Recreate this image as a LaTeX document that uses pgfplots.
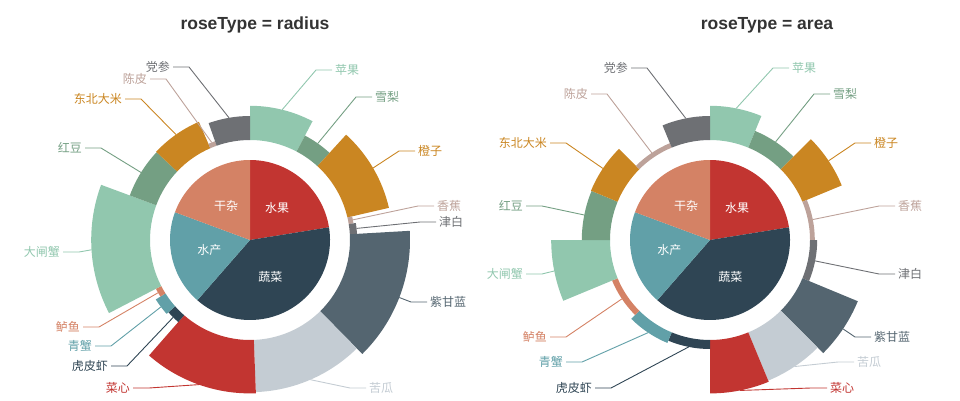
\documentclass[border=0pt]{standalone}
\usepackage{pgfplots}
\pgfplotsset{compat=1.18}
\usepackage{pgfplotstable}
\usepackage{fontspec}
\setmainfont{Liberation Sans}
\newfontfamily\cjk{Noto Sans CJK SC}

% echarts default palette
\definecolor{c0}{HTML}{C23531}
\definecolor{c1}{HTML}{2F4554}
\definecolor{c2}{HTML}{61A0A8}
\definecolor{c3}{HTML}{D48265}
\definecolor{c4}{HTML}{91C7AE}
\definecolor{c5}{HTML}{749F83}
\definecolor{c6}{HTML}{CA8622}
\definecolor{c7}{HTML}{BDA29A}
\definecolor{c8}{HTML}{6E7074}
\definecolor{c9}{HTML}{546570}
\definecolor{c10}{HTML}{C4CCD3}
\definecolor{titlegray}{HTML}{333333}

\newcommand\lbl{\cjk\fontsize{12}{14}\selectfont}

% inner pie: the four groups
\pgfplotstableread[col sep=comma]{
name,value,color
水果,166,c0
蔬菜,288,c1
水产,142,c2
干杂,143,c3
}\groups

% outer rose; label text position (px from top left) for the radius chart (rx,ry,rs) and area chart (ax,ay,as)
\pgfplotstableread[col sep=comma]{
name,value,color,rx,ry,rs,ax,ay,as
苹果,57,c4,335,70,1,792,68,1
雪梨,30,c5,375,97,1,833,94,1
橙子,71,c6,418,151,1,874,143,1
香蕉,8,c7,437,206,1,898,206,1
津白,12,c8,439,222,1,898,274,1
紫甘蓝,100,c9,430,302,1,874,337,1
苦瓜,87,c10,369,388,1,857,362,1
菜心,89,c0,130,388,-1,830,388,1
虎皮虾,15,c1,108,366,-1,592,388,-1
青蟹,19,c2,92,346,-1,563,362,-1
鲈鱼,10,c3,80,327,-1,547,337,-1
大闸蟹,98,c4,60,252,-1,523,274,-1
红豆,47,c5,82,148,-1,523,206,-1
东北大米,48,c6,122,99,-1,547,143,-1
陈皮,8,c7,147,79,-1,588,94,-1
党参,40,c8,170,67,-1,628,68,-1
}\items

% #1 cx, #2 cy (px from top), #3 0 = radius, 1 = area
\newcommand\rose[3]{%
  \pgfmathsetmacro\cx{#1}%
  \pgfmathsetmacro\cy{400-#2}%
  \def\tot{0}\def\totin{0}\def\vmax{0}%
  \pgfplotsforeachungrouped \i in {0,...,15}{%
    \pgfplotstablegetelem{\i}{value}\of\items
    \pgfmathsetmacro\tot{\tot+\pgfplotsretval}%
    \pgfmathsetmacro\vmax{max(\vmax,\pgfplotsretval)}%
  }%
  \pgfplotsforeachungrouped \i in {0,...,3}{%
    \pgfplotstablegetelem{\i}{value}\of\groups
    \pgfmathsetmacro\totin{\totin+\pgfplotsretval}%
  }%
  % inner pie
  \def\cum{0}%
  \pgfplotsforeachungrouped \i in {0,...,3}{%
    \pgfplotstablegetelem{\i}{value}\of\groups \let\val\pgfplotsretval
    \pgfplotstablegetelem{\i}{color}\of\groups \let\col\pgfplotsretval
    \pgfplotstablegetelem{\i}{name}\of\groups \let\nm\pgfplotsretval
    \pgfmathsetmacro\angA{90-\cum/\totin*360}%
    \pgfmathsetmacro\angB{90-(\cum+\val)/\totin*360}%
    \pgfmathsetmacro\angM{(\angA+\angB)/2}%
    \pgfmathsetmacro\cum{\cum+\val}%
    \pgfmathsetmacro\px{\cx+80*cos(\angA)}%
    \pgfmathsetmacro\py{\cy+80*sin(\angA)}%
    \pgfmathsetmacro\lx{\cx+42*cos(\angM)}%
    \pgfmathsetmacro\ly{\cy+42*sin(\angM)}%
    \edef\cmd{%
      \noexpand\fill[\col] (axis cs:\cx,\cy) -- (axis cs:\px,\py)
        arc[start angle=\angA, end angle=\angB, radius=80pt] -- cycle;
      \noexpand\node[white, inner sep=0pt, font=\noexpand\lbl] at (axis cs:\lx,\ly) {\nm};
    }\cmd
  }%
  % outer rose
  \def\cum{0}%
  \pgfplotsforeachungrouped \i in {0,...,15}{%
    \pgfplotstablegetelem{\i}{value}\of\items \let\val\pgfplotsretval
    \pgfplotstablegetelem{\i}{color}\of\items \let\col\pgfplotsretval
    \pgfplotstablegetelem{\i}{name}\of\items \let\nm\pgfplotsretval
    \ifnum#3=0
      \pgfplotstablegetelem{\i}{rx}\of\items \let\tx\pgfplotsretval
      \pgfplotstablegetelem{\i}{ry}\of\items \let\ty\pgfplotsretval
      \pgfplotstablegetelem{\i}{rs}\of\items \let\side\pgfplotsretval
      \pgfmathsetmacro\angA{90-\cum/\tot*360}%
      \pgfmathsetmacro\angB{90-(\cum+\val)/\tot*360}%
    \else
      \pgfplotstablegetelem{\i}{ax}\of\items \let\tx\pgfplotsretval
      \pgfplotstablegetelem{\i}{ay}\of\items \let\ty\pgfplotsretval
      \pgfplotstablegetelem{\i}{as}\of\items \let\side\pgfplotsretval
      \pgfmathsetmacro\angA{90-\i*22.5}%
      \pgfmathsetmacro\angB{90-(\i+1)*22.5}%
    \fi
    \pgfmathsetmacro\cum{\cum+\val}%
    \pgfmathsetmacro\angM{(\angA+\angB)/2}%
    \pgfmathsetmacro\rr{100+60*\val/\vmax}%
    \pgfmathsetmacro\dr{\rr-100}%
    \pgfmathsetmacro\px{\cx+100*cos(\angA)}%
    \pgfmathsetmacro\py{\cy+100*sin(\angA)}%
    \pgfmathsetmacro\sx{\cx+\rr*cos(\angM)}%
    \pgfmathsetmacro\sy{\cy+\rr*sin(\angM)}%
    \pgfmathsetmacro\ey{400-\ty}%
    \pgfmathsetmacro\endx{\tx-3*\side}%
    \pgfmathsetmacro\elbx{\endx-16*\side}%
    \ifnum\side>0 \def\anc{west}\else\def\anc{east}\fi
    \edef\cmd{%
      \noexpand\fill[\col] (axis cs:\px,\py)
        arc[start angle=\angA, end angle=\angB, radius=100pt]
        -- ++(\angB:\dr pt)
        arc[start angle=\angB, end angle=\angA, radius=\rr pt] -- cycle;
      \noexpand\draw[\col, line width=0.9pt] (axis cs:\sx,\sy) -- (axis cs:\elbx,\ey) -- (axis cs:\endx,\ey);
      \noexpand\node[\col, anchor=\anc, inner sep=0pt, font=\noexpand\lbl] at (axis cs:\tx,\ey) {\nm};
    }\cmd
  }%
}

\begin{document}
\begin{tikzpicture}
\begin{axis}[
    x=1pt, y=1pt,
    xmin=0, xmax=960, ymin=0, ymax=400,
    scale only axis,
    hide axis,
    clip=false
]
\rose{250}{240}{0}
\rose{710}{240}{1}
\node[text=titlegray, font=\bfseries\fontsize{17.5}{20}\selectfont] at (axis cs:255,375) {roseType = radius};
\node[text=titlegray, font=\bfseries\fontsize{17.5}{20}\selectfont] at (axis cs:767,375) {roseType = area};
\end{axis}
\pgfresetboundingbox
\path (0,0) rectangle (960pt,400pt);
\end{tikzpicture}
\end{document}
